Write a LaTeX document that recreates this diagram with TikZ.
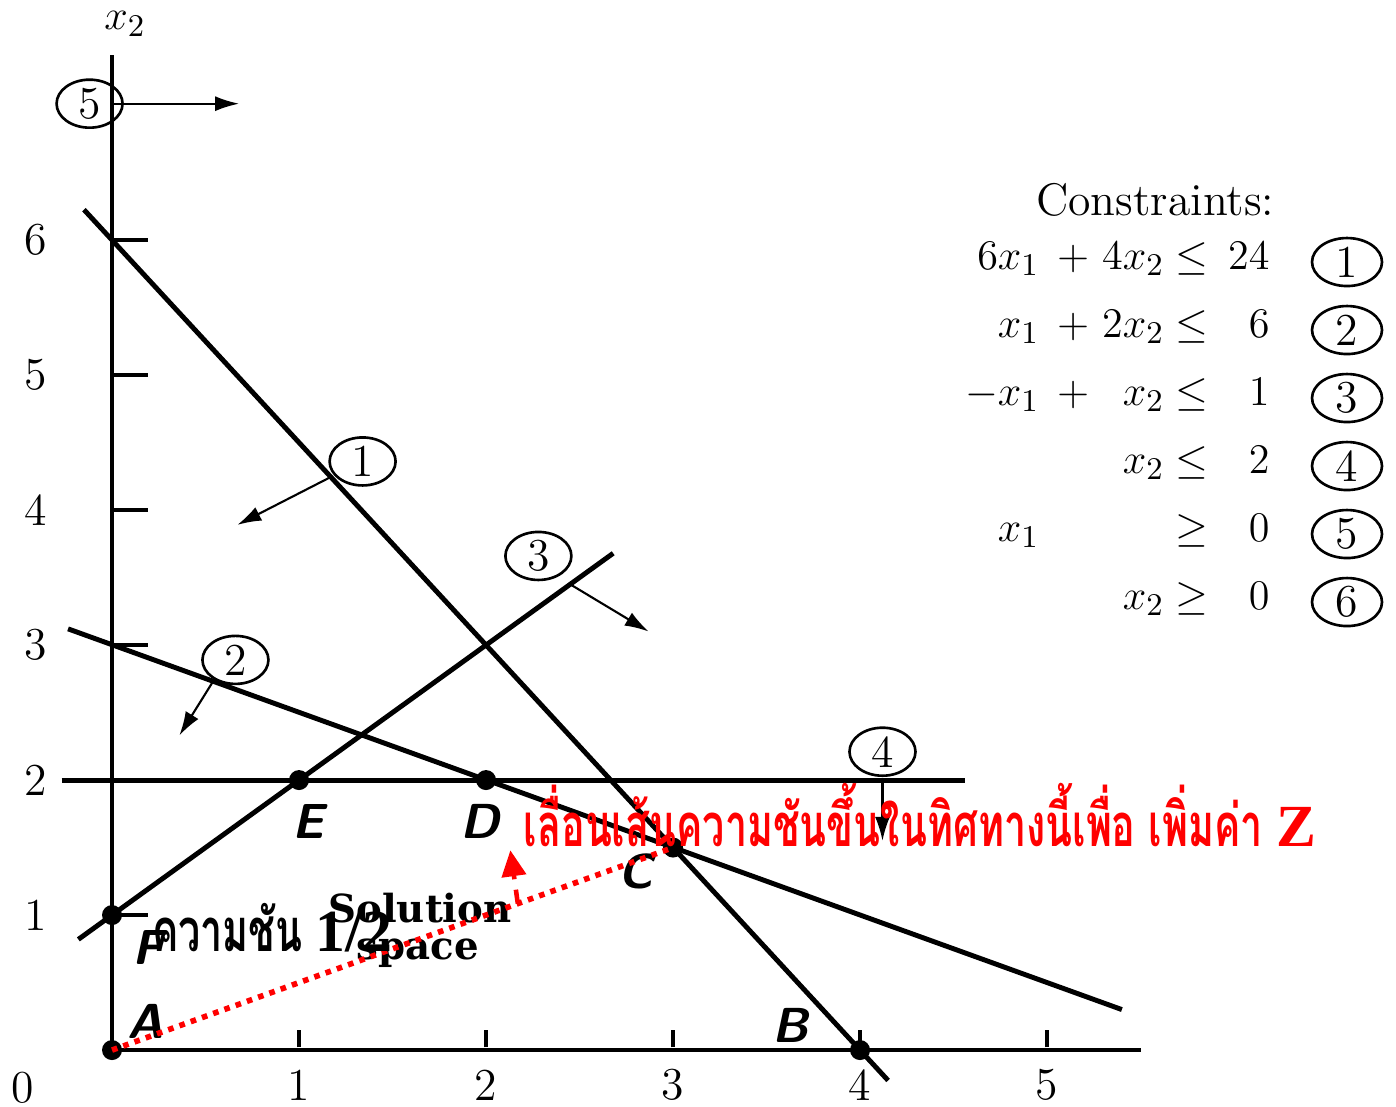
\documentclass[tikz,border=0pt]{standalone}
\usepackage{fontspec}
\newfontfamily\thaifont[Script=Thai,FakeStretch=0.66]{Loma}
\newfontfamily\tmsfont{Liberation Serif}
\newfontfamily\heavyfont{DejaVu Serif}
\usetikzlibrary{arrows.meta,shapes.geometric}

\begin{document}
\begin{tikzpicture}[x=1.87cm,y=1.35cm,font=\fontsize{13}{15}\selectfont,
  ln/.style={line width=1.4pt},
  ax/.style={line width=1.1pt},
  dot/.style={circle,fill,inner sep=0pt,minimum size=2mm},
  pt/.style={font=\fontsize{14}{16}\selectfont\sffamily\bfseries\slshape},
  cn/.style={ellipse,draw,line width=0.75pt,minimum width=6.6mm,minimum height=4.8mm,inner sep=0pt},
  dir/.style={line width=0.6pt,-{Latex[length=2.4mm,width=1.5mm]}},
  obj/.style={red,line width=1.6pt,dash pattern=on 1.6pt off 1.8pt},
  thai/.style={font=\fontsize{17}{20}\selectfont\thaifont\bfseries},
  sol/.style={font=\fontsize{11}{12}\selectfont\heavyfont\bfseries},
  tb/.style={inner sep=0pt}]
\useasboundingbox (-0.599,-0.415) rectangle (6.866,7.778);
% ---- axes and scales ----
\node[dot] (A) at (0,0) {};
\coordinate (ytop) at (0,7.37);
\coordinate (xend) at (5.5,0);
\draw[ax] (A.center) -- (ytop);
\draw[ax] (A.center) -- (xend);
\node (x2lab) at (0.07,7.6) {$x_2$};
\foreach \k in {1,...,6} {
  \draw[ax] (0,\k) -- (0.19,\k);
  \node (ylab\k) at (-0.41,\k) {\k};
}
\foreach \k in {1,...,5} {
  \draw[ax] (\k,0.02) -- (\k,0.15);
  \node (xlab\k) at (\k,-0.26) {\k};
}
\node (zero) at (-0.48,-0.28) {0};
% ---- constraint lines ----
\coordinate (l1a) at (-0.15,6.225); \coordinate (l1b) at (4.15,-0.225);
\coordinate (l2a) at (-0.235,3.12); \coordinate (l2b) at (5.4,0.3);
\coordinate (l3a) at (-0.18,0.82);  \coordinate (l3b) at (2.68,3.68);
\coordinate (l4a) at (-0.27,2);     \coordinate (l4b) at (4.56,2);
\draw[ln] (l1a) -- (l1b);
\draw[ln] (l2a) -- (l2b);
\draw[ln] (l3a) -- (l3b);
\draw[ln] (l4a) -- (l4b);
% ---- circled labels and feasible sides ----
\node[cn] (c1) at (1.34,4.36) {1};
\node[cn] (c2) at (0.66,2.89) {2};
\node[cn] (c3) at (2.28,3.66) {3};
\node[cn] (c4) at (4.12,2.21) {4};
\node[cn] (c5) at (-0.12,7.01) {5};
\coordinate (p1) at (1.17,4.245); \coordinate (q1) at (0.67,3.89);
\coordinate (p2) at (0.54,2.73);  \coordinate (q2) at (0.36,2.33);
\coordinate (p3) at (2.45,3.45);  \coordinate (q3) at (2.87,3.10);
\coordinate (p4) at (4.12,2);     \coordinate (q4) at (4.12,1.55);
\coordinate (p5) at (0,7.01);     \coordinate (q5) at (0.68,7.01);
\foreach \k in {1,...,5} \draw[dir] (p\k) -- (q\k);
% ---- corner points ----
\node[dot] (F) at (0,1) {};
\node[dot] (E) at (1,2) {};
\node[dot] (D) at (2,2) {};
\node[dot] (C) at (3,1.5) {};
\node[dot] (B) at (4,0) {};
\node[pt] (Alab) at (0.18,0.21) {A};
\node[pt] (Blab) at (3.63,0.185) {B};
\node[pt] (Clab) at (2.80,1.32) {C};
\node[pt] (Dlab) at (1.97,1.69) {D};
\node[pt] (Elab) at (1.05,1.69) {E};
\node[pt] (Flab) at (0.19,0.76) {F};
\node[sol] (solw) at (1.647,1.052) {Solution};
\node[sol] (spcw) at (1.636,0.719) {space};
% ---- objective line (red) ----
\draw[obj] (A.center) -- (C.center);
\coordinate (r1) at (2.17,1.085); \coordinate (r2) at (2.13,1.48);
\draw[red,line width=1.3pt,dash pattern=on 4pt off 3pt,-{Triangle[length=2.6mm,width=2.4mm]}] (r1) -- (r2);
\node[thai,text=red] (note) at (4.32,1.74) {เลื่อนเส้นความชันขึ้นในทิศทางนี้เพื่อ เพิ่มค่า {\tmsfont\bfseries Z}};
\node[thai] (slope) at (0.856,0.91) {ความชัน {\tmsfont\bfseries 1/2}};
% ---- constraints ----
\node (ctitle) at (5.578,6.296) {Constraints:};
\foreach \n/\a/\p/\b/\r/\c in {1/6x_1/+/4x_2/\le/24, 2/x_1/+/2x_2/\le/6, 3/-x_1/+/x_2/\le/1,
    4/{}/{}/x_2/\le/2, 5/x_1/{}/{}/\ge/0, 6/{}/{}/x_2/\ge/0} {
  \pgfmathsetmacro{\yy}{5.837-(\n-1)*0.5037}
  \node[tb,anchor=mid east] (ca\n) at (4.963,\yy) {$\a$};
  \node[tb,anchor=mid] (cp\n) at (5.139,\yy) {$\p$};
  \node[tb,anchor=mid east] (cb\n) at (5.631,\yy) {$\b$};
  \node[tb,anchor=mid] (cr\n) at (5.775,\yy) {$\r$};
  \node[tb,anchor=mid east] (cc\n) at (6.193,\yy) {$\c$};
  \node[cn,minimum width=7mm,minimum height=4.8mm] (cn\n) at (6.604,\yy) {\n};
}
\end{tikzpicture}
\end{document}
